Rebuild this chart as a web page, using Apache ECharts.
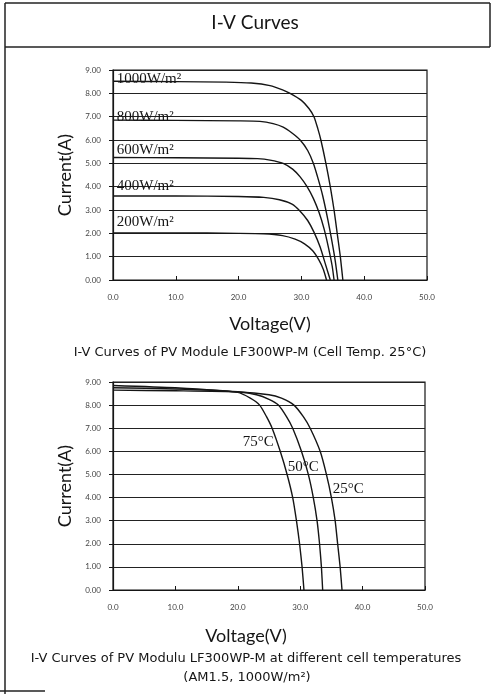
<!DOCTYPE html>
<html>
<head>
<meta charset="utf-8">
<script src="https://cdn.jsdelivr.net/npm/echarts@6/dist/echarts.min.js"></script>
<style>
html,body{margin:0;padding:0;background:#fff;}
#chart{width:493px;height:694px;}
</style>
</head>
<body>
<div id="chart"></div>
<script>
// I-V curves at different irradiance (cell temp 25°C)
var irrNames = ['1000W/m²', '800W/m²', '600W/m²', '400W/m²', '200W/m²'];
var v1000 = [0, 10, 18, 22, 25, 27, 28.2, 30.0, 31.2, 32.0, 32.6, 33.1, 33.9, 34.6, 35.2, 35.7, 36.2, 36.6];
var i1000 = [8.52, 8.5, 8.48, 8.44, 8.33, 8.15, 8.0, 7.7, 7.35, 7.0, 6.5, 6.0, 5.0, 4.0, 3.0, 2.0, 1.0, 0];
var v800 = [0, 10, 20, 23.4, 25.5, 27.1, 28.5, 29.8, 31.0, 31.9, 32.7, 33.4, 34.2, 34.9, 35.4, 35.8];
var i800 = [6.85, 6.84, 6.82, 6.8, 6.7, 6.55, 6.3, 6.0, 5.55, 5.0, 4.3, 3.6, 2.6, 1.6, 0.8, 0];
var v600 = [0, 10, 20, 23, 25, 27.1, 28.6, 29.8, 30.9, 31.9, 32.8, 33.6, 34.3, 34.9, 35.2];
var i600 = [5.25, 5.24, 5.22, 5.2, 5.14, 5.0, 4.75, 4.42, 4.0, 3.5, 2.9, 2.2, 1.4, 0.6, 0];
var v400 = [0, 10, 20, 24, 26.5, 28.5, 29.8, 31.0, 32.0, 33.0, 33.8, 34.6];
var i400 = [3.6, 3.6, 3.58, 3.54, 3.44, 3.25, 2.95, 2.55, 2.05, 1.4, 0.7, 0];
var v200 = [0, 10, 20, 24, 27, 29, 30.5, 31.8, 32.8, 33.5, 34.0];
var i200 = [2.02, 2.02, 2.0, 1.98, 1.9, 1.75, 1.55, 1.25, 0.85, 0.45, 0];

// I-V curves at different cell temperature (AM1.5, 1000W/m²)
var tempNames = ['25°C', '50°C', '75°C'];
var v25 = [0, 10, 20, 25, 27, 29, 30.5, 31.6, 33.2, 34.2, 35.0, 35.6, 36.0, 36.4, 36.7];
var i25 = [8.65, 8.62, 8.57, 8.45, 8.3, 8.0, 7.5, 7.0, 6.0, 5.0, 4.0, 3.0, 2.0, 1.0, 0];
var v50 = [0, 10, 20, 23, 25, 26.5, 27.8, 28.8, 30.2, 31.3, 32.1, 32.7, 33.1, 33.4, 33.6];
var i50 = [8.75, 8.7, 8.58, 8.45, 8.25, 8.0, 7.5, 7.0, 6.0, 5.0, 4.0, 3.0, 2.0, 1.0, 0];
var v75 = [0, 10, 20, 22, 23.5, 24.6, 25.5, 26.8, 27.9, 28.8, 29.4, 29.9, 30.3, 30.6];
var i75 = [8.85, 8.75, 8.55, 8.3, 8.0, 7.5, 7.0, 6.0, 5.0, 4.0, 3.0, 2.0, 1.0, 0];

var voltMin = 0, voltMax = 50, voltStep = 10;
var ampMin = 0, ampMax = 9, ampStep = 1;

function pairs(v, i) {
    return v.map(function (x, k) { return [x, i[k]]; });
}

var ink = '#151515';
var font = 'Lato';

function curve(name, v, i, gi, labelAt) {
    return {
        name: name,
        type: 'line',
        xAxisIndex: gi,
        yAxisIndex: gi,
        data: pairs(v, i),
        smooth: 0.2,
        symbol: 'none',
        lineStyle: {color: ink, width: 1.4},
        markPoint: {
            symbol: 'rect',
            symbolSize: 1,
            itemStyle: {color: 'rgba(0,0,0,0)'},
            label: {
                show: true,
                position: 'inside',
                align: 'left',
                color: ink,
                fontFamily: 'Liberation Serif',
                fontSize: 15,
                formatter: name
            },
            data: [{coord: labelAt}]
        }
    };
}

function xAx(gi, gap, pad) {
    return {
        type: 'value', gridIndex: gi,
        min: voltMin, max: voltMax, interval: voltStep,
        name: 'Voltage(V)', nameLocation: 'middle', nameGap: gap,
        nameTextStyle: {fontFamily: font, fontSize: 18, color: ink, padding: pad},
        axisLine: {lineStyle: {color: ink, width: 1.2}},
        axisTick: {inside: true, length: 4, lineStyle: {color: ink}},
        axisLabel: {fontFamily: font, fontSize: 8, color: '#444', margin: 13,
            formatter: function (v) { return v.toFixed(1); }},
        splitLine: {show: false}
    };
}

function yAx(gi) {
    return {
        type: 'value', gridIndex: gi,
        min: ampMin, max: ampMax, interval: ampStep,
        name: 'Current(A)', nameLocation: 'middle', nameGap: 31, nameRotate: 90,
        nameTextStyle: {fontFamily: font, fontSize: 18, color: ink},
        axisLine: {show: true, lineStyle: {color: ink, width: 1.2}},
        axisTick: {show: true, length: 4, lineStyle: {color: ink}},
        axisLabel: {fontFamily: font, fontSize: 8, color: '#444', margin: 12,
            formatter: function (v) { return v.toFixed(2); }},
        splitLine: {show: true, lineStyle: {color: '#222', width: 1}}
    };
}

function txt(x, y, s, size, fam) {
    return {type: 'text', x: x, y: y, silent: true,
        style: {text: s, fill: ink, font: size + 'px ' + (fam || font), align: 'center', verticalAlign: 'middle'}};
}
function ln(x1, y1, x2, y2, w) {
    return {type: 'line', silent: true, shape: {x1: x1, y1: y1, x2: x2, y2: y2},
        style: {stroke: '#222', lineWidth: w || 1.5}};
}

var myChart = echarts.init(document.getElementById('chart'));
var option = {
    animation: false,
    backgroundColor: '#fff',
    grid: [
        {left: 113, top: 70, right: 66, height: 210, show: true, borderColor: ink, borderWidth: 1.2, backgroundColor: 'transparent'},
        {left: 113, top: 382, right: 68, height: 208, show: true, borderColor: ink, borderWidth: 1.2, backgroundColor: 'transparent'}
    ],
    xAxis: [xAx(0, 35, [0, 0, 0, 0]), xAx(1, 37, [0, 46, 0, 0])],
    yAxis: [yAx(0), yAx(1)],
    series: [
        curve(irrNames[0], v1000, i1000, 0, [0.6, 8.62]),
        curve(irrNames[1], v800, i800, 0, [0.6, 6.98]),
        curve(irrNames[2], v600, i600, 0, [0.6, 5.57]),
        curve(irrNames[3], v400, i400, 0, [0.6, 4.02]),
        curve(irrNames[4], v200, i200, 0, [0.6, 2.48]),
        curve(tempNames[0], v25, i25, 1, [35.2, 4.35]),
        curve(tempNames[1], v50, i50, 1, [28.0, 5.3]),
        curve(tempNames[2], v75, i75, 1, [20.8, 6.4])
    ],
    graphic: [
        ln(5, 3, 490, 3), ln(5, 47, 490, 47), ln(5, 3, 5, 694), ln(490, 3, 490, 47), ln(0, 691, 45, 691),
        txt(255, 23, 'I-V Curves', 19),
        txt(250, 353, 'I-V Curves of PV Module LF300WP-M (Cell Temp. 25°C)', 13, 'DejaVu Sans'),
        txt(246, 659, 'I-V Curves of PV Modulu LF300WP-M at different cell temperatures', 13, 'DejaVu Sans'),
        txt(247, 678, '(AM1.5, 1000W/m²)', 13, 'DejaVu Sans')
    ]
};
myChart.setOption(option);
window.addEventListener('resize', function () { myChart.resize(); });
</script>
</body>
</html>
